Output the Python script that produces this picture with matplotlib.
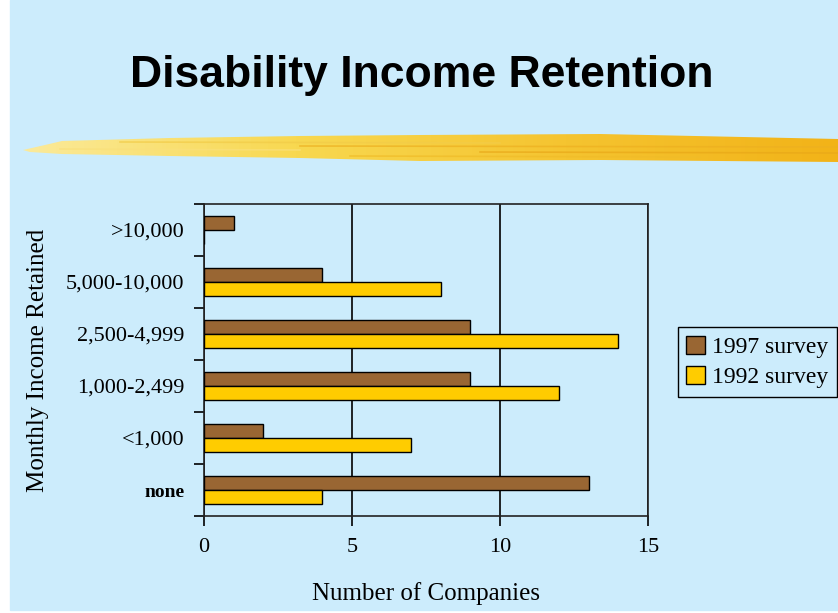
import numpy as np
import matplotlib.pyplot as plt
from matplotlib.patches import Polygon, Patch
from matplotlib.colors import LinearSegmentedColormap

# data
categories = ['none', '<1,000', '1,000-2,499', '2,500-4,999', '5,000-10,000', '>10,000']
survey_1997 = [13, 2, 9, 9, 4, 1]
survey_1992 = [4, 7, 12, 14, 8, 0]
x_ticks = [0, 5, 10, 15]

bg = '#CCECFC'
brown = '#996633'
gold = '#FFCC00'

fig = plt.figure(figsize=(8.38, 6.13), dpi=100, facecolor='white')

# background panel + brush stroke, drawn in pixel coords
deco = fig.add_axes([0, 0, 1, 1], zorder=0)
deco.set_xlim(0, 838)
deco.set_ylim(613, 0)
deco.axis('off')
deco.add_patch(plt.Rectangle((10, 0), 828, 610, color=bg, zorder=0))

stroke = [(23, 150), (45, 145), (62, 141), (170, 138), (300, 136), (420, 135),
          (600, 134), (838, 139), (838, 162), (600, 160), (420, 161),
          (300, 158), (170, 156), (62, 154), (30, 152)]
grad = np.linspace(0, 1, 200).reshape(1, -1)
cmap = LinearSegmentedColormap.from_list('brush', ['#FBEA9A', '#F8D850', '#F5C430', '#F2B318'])
im = deco.imshow(grad, extent=(23, 838, 165, 130), cmap=cmap, aspect='auto', zorder=1)
poly = Polygon(stroke, closed=True, transform=deco.transData, facecolor='none', edgecolor='none')
deco.add_patch(poly)
im.set_clip_path(poly)
# a few streaks for the brush texture
for y0, x0, x1, c in [(146, 300, 838, '#EDB020'), (152, 480, 838, '#E9A818'),
                      (142, 120, 500, '#F2CC48'), (149, 60, 300, '#F9E07A'),
                      (156, 350, 700, '#F0BC28')]:
    deco.plot([x0, x1], [y0, y0 + 1], color=c, lw=1.2, alpha=0.7, zorder=2)

fig.text(0.503, 0.877, 'Disability Income Retention', ha='center', va='center',
         fontsize=32, fontweight='bold', family='Liberation Sans', color='black')

ax = fig.add_axes([0.2434, 0.1582, 0.5298, 0.5091], zorder=1)
ax.patch.set_alpha(0)

y = np.arange(len(categories))
h = 0.27
ax.barh(y + h / 2, survey_1997, height=h, color=brown, edgecolor='black', lw=1, zorder=3)
ax.barh(y - h / 2, survey_1992, height=h, color=gold, edgecolor='black', lw=1, zorder=3)

ax.set_xlim(0, 15)
ax.set_ylim(-0.5, len(categories) - 0.5)
ax.set_xticks(x_ticks)
ax.set_xticklabels([str(t) for t in x_ticks], family='Liberation Serif', fontsize=16)
ax.set_yticks(y)
ax.set_yticklabels(categories, family='Liberation Serif', fontsize=16)
ax.get_yticklabels()[0].set_fontweight('bold')
ax.get_yticklabels()[0].set_fontsize(14)
ax.tick_params(axis='y', length=0, pad=14)
ax.set_yticks(np.arange(-0.5, len(categories)), minor=True)
ax.tick_params(axis='y', which='minor', length=7, width=1.2, direction='out')
ax.tick_params(axis='x', length=7, width=1.2, direction='out', pad=9)
ax.grid(axis='x', color='black', lw=1.2, zorder=1)
for s in ax.spines.values():
    s.set_linewidth(1.2)
    s.set_color('#222222')

ax.set_xlabel('Number of Companies', family='Liberation Serif', fontsize=18, labelpad=18)
ax.set_ylabel('Monthly Income Retained', family='Liberation Serif', fontsize=18, labelpad=12)

handles = [Patch(facecolor=brown, edgecolor='black', label='1997 survey'),
           Patch(facecolor=gold, edgecolor='black', label='1992 survey')]
leg = fig.legend(handles=handles, loc='upper left', bbox_to_anchor=(0.809, 0.466),
                 prop={'family': 'Liberation Serif', 'size': 17}, fancybox=False,
                 frameon=True, handlelength=0.8, handleheight=0.8, handletextpad=0.3,
                 borderpad=0.35, labelspacing=0.35, borderaxespad=0)
leg.get_frame().set_edgecolor('black')
leg.get_frame().set_facecolor(bg)
leg.get_frame().set_alpha(1)
leg.get_frame().set_linewidth(1)

fig.savefig('out.png', dpi=100, facecolor=fig.get_facecolor())
